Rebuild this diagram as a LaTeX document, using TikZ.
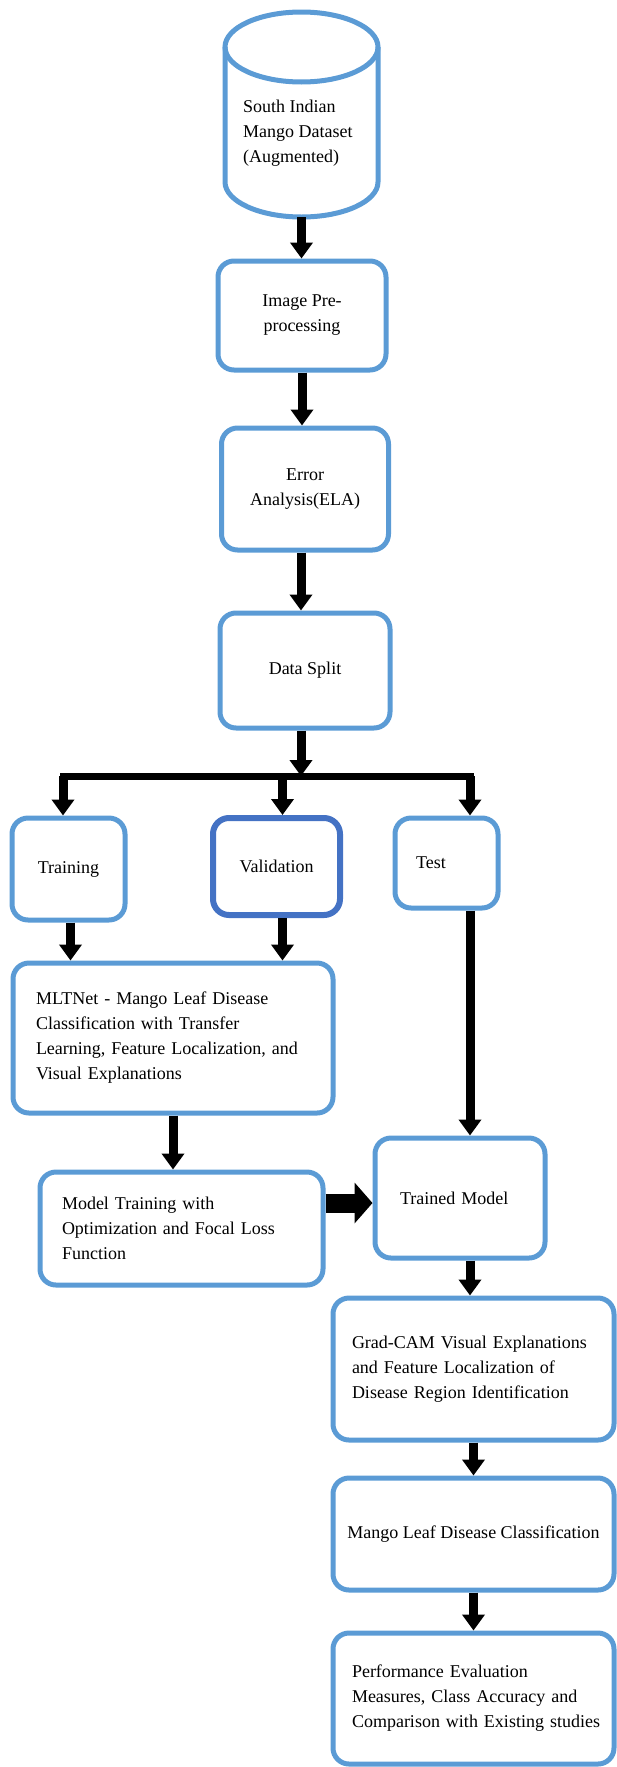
\documentclass[tikz,border=0pt]{standalone}
\usepackage{fontspec}
\setmainfont{Liberation Serif}
\usepackage{tikz}
\usetikzlibrary{arrows.meta}
\usetikzlibrary{calc}
\definecolor{boxblue}{HTML}{5B9BD5}
\definecolor{valblue}{HTML}{4472C4}
\tikzset{
  fc_font/.style = {font=\fontsize{18pt}{25pt}\selectfont},
  fc_box/.style = {rectangle, draw=boxblue, line width=5pt, rounded corners=16pt, inner sep=0pt, fc_font},
  fc_cbox/.style = {fc_box, align=center},
  fc_lbox/.style = {fc_box, align=left},
  fc_db/.style = {rectangle, inner sep=0pt, outer sep=0pt},
  fc_can/.style = {draw=boxblue, line width=5pt},
  fc_txt/.style = {align=left, inner sep=0pt, fc_font},
  fc_arr/.style = {line width=9pt, -{Triangle[width=22pt,length=16pt]}},
  fc_big/.style = {line width=19pt, -{Triangle[width=40pt,length=18pt]}},
  fc_bar/.style = {line width=7pt, line cap=rect}
}
\begin{document}
\begin{tikzpicture}[x=1pt,y=-1pt]
\useasboundingbox (0,0) rectangle (617,1767);

\node[fc_db, minimum width=153pt, minimum height=205pt] (db) at (301.5,114.5) {};
\draw[fc_can] ($(db.north)+(0,35)$) ellipse [x radius=76.5, y radius=35];
\draw[fc_can] ($(db.north west)+(0,35)$) -- ($(db.south west)+(0,-35)$)
  arc [start angle=180, end angle=0, x radius=76.5, y radius=35] -- ($(db.north east)+(0,35)$);
\node[fc_txt, anchor=west] (dbtxt) at (243,133) {South Indian\\Mango Dataset\\(Augmented)};

\node[fc_cbox, minimum width=168pt, minimum height=109pt] (prep) at (302,315.5) {Image Pre-\\processing};
\node[fc_cbox, minimum width=167pt, minimum height=122pt] (ela) at (305,489) {Error\\Analysis(ELA)};
\node[fc_cbox, minimum width=170pt, minimum height=115pt] (split) at (305,670.5) {Data Split};

\coordinate (barL) at (63,776);
\coordinate (barR) at (470,776);

\node[fc_cbox, minimum width=113pt, minimum height=102pt] (train) at (68.5,869) {Training};
\node[fc_cbox, draw=valblue, line width=6pt, minimum width=127pt, minimum height=97pt] (valid) at (276.5,866.5) {Validation};
\node[fc_lbox, minimum width=103pt, text width=61pt, minimum height=90pt] (test) at (446.5,863) {Test};
\node[fc_lbox, minimum width=320pt, text width=274pt, minimum height=150pt] (mlt) at (173,1038) {MLTNet - Mango Leaf Disease\\Classification with Transfer\\Learning, Feature Localization, and\\Visual Explanations};
\node[fc_lbox, minimum width=283pt, text width=239pt, minimum height=113pt] (mtrain) at (181.5,1228.5) {Model Training with\\Optimization and Focal Loss\\Function};
\node[fc_lbox, minimum width=170pt, text width=120pt, minimum height=120pt] (trained) at (460,1198) {Trained Model};
\node[fc_lbox, minimum width=281pt, text width=243pt, minimum height=142pt] (gradcam) at (473.5,1369) {Grad-CAM Visual Explanations\\and Feature Localization of\\Disease Region Identification};
\node[fc_cbox, minimum width=281pt, minimum height=112pt] (mango) at (473.5,1534) {Mango Leaf Disease Classification};
\node[fc_lbox, minimum width=281pt, text width=243pt, minimum height=131pt] (perf) at (473.5,1698.5) {Performance Evaluation\\Measures, Class Accuracy and\\\mbox{Comparison with Existing studies}};

\draw[fc_arr] (db.south) -- (db.south |- prep.north);
\draw[fc_arr] (prep.south) -- (prep.south |- ela.north);
\draw[fc_arr] ([xshift=-4pt]ela.south) -- ([xshift=-4pt]ela.south |- split.north);
\draw[fc_arr] ([xshift=-4pt]split.south) -- ([xshift=-4pt]split.south |- barL);
\draw[fc_bar] (barL) -- (barR);
\draw[fc_arr] (barL) -- (barL |- train.north);
\draw[fc_arr] ([xshift=6pt]valid.north |- barL) -- ([xshift=6pt]valid.north);
\draw[fc_arr] (barR) -- (barR |- test.north);
\draw[fc_arr] ([xshift=2pt]train.south) -- ([xshift=2pt]train.south |- mlt.north);
\draw[fc_arr] ([xshift=6pt]valid.south) -- ([xshift=6pt]valid.south |- mlt.north);
\draw[fc_arr] (barR |- test.south) -- (barR |- trained.north);
\draw[fc_arr] (mlt.south) -- (mlt.south |- mtrain.north);
\draw[fc_big] ([yshift=-5pt]trained.west -| mtrain.east) -- ([yshift=-5pt]trained.west);
\draw[fc_arr] (barR |- trained.south) -- (barR |- gradcam.north);
\draw[fc_arr] (gradcam.south) -- (mango.north);
\draw[fc_arr] (mango.south) -- (perf.north);
\end{tikzpicture}
\end{document}
